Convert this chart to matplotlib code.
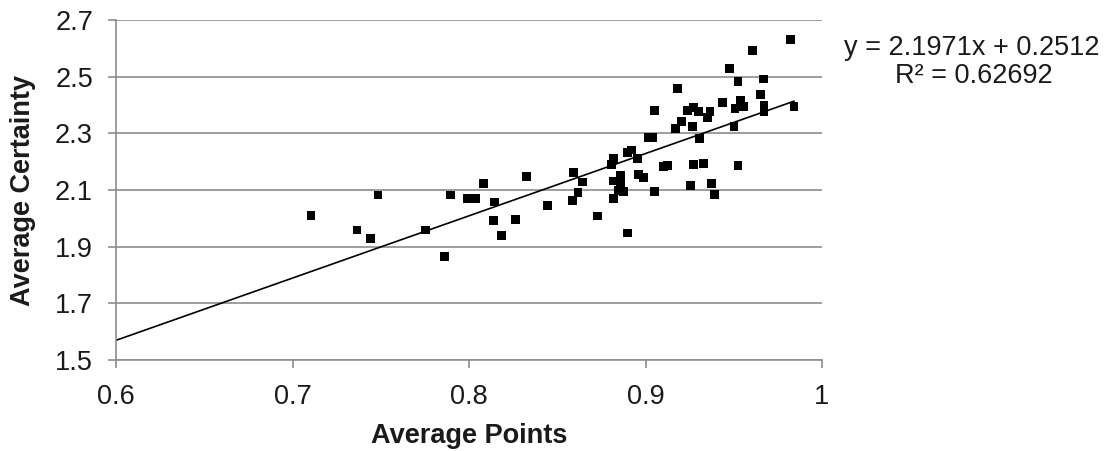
import matplotlib
matplotlib.use("Agg")
import matplotlib.pyplot as plt
import numpy as np

avg_points = [0.7105, 0.7366, 0.7441, 0.7485, 0.7753, 0.7861, 0.7895, 0.7993, 0.8037, 0.8081,
              0.8145, 0.8141, 0.8183, 0.8264, 0.8326, 0.8444, 0.8586, 0.8591, 0.8617, 0.8642,
              0.8729, 0.8807, 0.8820, 0.8820, 0.8820, 0.8848, 0.8860, 0.8860, 0.8875, 0.8898,
              0.8898, 0.8920, 0.8956, 0.8962, 0.8990, 0.9018, 0.9039, 0.9052, 0.9052, 0.9104,
              0.9125, 0.9172, 0.9183, 0.9204, 0.9238, 0.9257, 0.9268, 0.9274, 0.9274, 0.9302,
              0.9308, 0.9329, 0.9351, 0.9365, 0.9376, 0.9393, 0.9437, 0.9478, 0.9501, 0.9507,
              0.9524, 0.9524, 0.9540, 0.9557, 0.9608, 0.9650, 0.9669, 0.9671, 0.9671, 0.9820,
              0.9841]
avg_certainty = [2.009, 1.959, 1.929, 2.082, 1.959, 1.866, 2.082, 2.071, 2.070, 2.122,
                 2.058, 1.991, 1.940, 1.997, 2.149, 2.044, 2.064, 2.163, 2.091, 2.128,
                 2.008, 2.190, 2.211, 2.132, 2.071, 2.099, 2.152, 2.127, 2.096, 1.948,
                 2.232, 2.241, 2.212, 2.155, 2.145, 2.285, 2.285, 2.381, 2.096, 2.183,
                 2.187, 2.317, 2.457, 2.342, 2.381, 2.116, 2.325, 2.391, 2.190, 2.378,
                 2.282, 2.194, 2.355, 2.378, 2.123, 2.085, 2.408, 2.529, 2.325, 2.387,
                 2.187, 2.482, 2.415, 2.395, 2.591, 2.437, 2.492, 2.398, 2.378, 2.630,
                 2.395]

slope = 2.1971
intercept = 0.2512
r_squared = 0.62692

x_ticks = [0.6, 0.7, 0.8, 0.9, 1.0]
x_ticklabels = ["0.6", "0.7", "0.8", "0.9", "1"]
y_ticks = [1.5, 1.7, 1.9, 2.1, 2.3, 2.5, 2.7]

plt.rcParams['font.family'] = ['Liberation Sans', 'DejaVu Sans']

W, H = 1109, 451
fig = plt.figure(figsize=(W / 100, H / 100), dpi=100)
ax = fig.add_axes([116 / W, 1 - 360 / H, (822 - 116) / W, (360 - 20) / H])

grey = "#8c8c8c"
txt = "#1a1a1a"
fs = 19.5
ax.set_xlim(0.6, 1.0)
ax.set_ylim(1.5, 2.7)
ax.set_yticks(y_ticks)
ax.set_yticklabels([f"{v:.1f}" for v in y_ticks])
ax.set_xticks(x_ticks)
ax.set_xticklabels(x_ticklabels)
ax.yaxis.grid(True, color=grey, linewidth=1.2)
ax.set_axisbelow(True)
for s in ["top", "right"]:
    ax.spines[s].set_visible(False)
for s in ["left", "bottom"]:
    ax.spines[s].set_color(grey)
    ax.spines[s].set_linewidth(1.2)
ax.tick_params(axis="both", direction="out", length=5.5, width=1.2, color=grey,
               labelsize=fs, labelcolor=txt)
ax.tick_params(axis="y", pad=11)
ax.tick_params(axis="x", pad=12)

# trendline
xl = np.array([0.6, max(avg_points)])
ax.plot(xl, slope * xl + intercept, color="black", linewidth=1.2, zorder=2)

ax.scatter(avg_points, avg_certainty, marker="s", s=40, color="black",
           edgecolors="none", zorder=3)

fig.text(469 / W, 1 - 436 / H, "Average Points", fontsize=fs, fontweight="bold",
         ha="center", va="center", color=txt)
fig.text(23 / W, 1 - 190 / H, "Average Certainty", fontsize=fs, fontweight="bold",
         ha="center", va="center", rotation=90, color=txt)

fig.text(972 / W, 1 - 48 / H, f"y = {slope}x + {intercept}", fontsize=fs,
         ha="center", va="center", color=txt)
fig.text(974 / W, 1 - 76 / H, f"R² = {r_squared}", fontsize=fs,
         ha="center", va="center", color=txt)

fig.savefig("out.png", dpi=100)
